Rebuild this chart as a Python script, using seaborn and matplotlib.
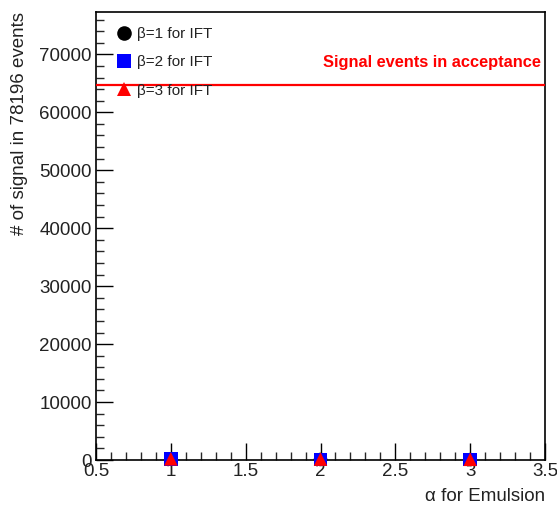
import numpy as np
import pandas as pd
import matplotlib
matplotlib.use("Agg")
import matplotlib.pyplot as plt
from matplotlib.ticker import MultipleLocator, FormatStrFormatter
import seaborn as sns

# Emulsion alpha parameter values
alpha = [1, 2, 3]
# signal counts for each IFT beta setting
signal_beta1 = [120, 90, 70]
signal_beta2 = [160, 120, 95]
signal_beta3 = [200, 150, 120]
beta_labels = ["β=1 for IFT", "β=2 for IFT", "β=3 for IFT"]
acceptance_events = 64700
total_events = 78196

df = pd.DataFrame({
    "alpha": alpha * 3,
    "signal": signal_beta1 + signal_beta2 + signal_beta3,
    "beta": [beta_labels[0]] * 3 + [beta_labels[1]] * 3 + [beta_labels[2]] * 3,
})

sns.set_style("ticks")
plt.rcParams["font.family"] = ["Liberation Sans", "DejaVu Sans"]

fig = plt.figure(figsize=(5.57, 5.07), dpi=100)
ax = fig.add_axes([0.1724, 0.0927, 0.9785 - 0.1724, 0.9763 - 0.0927])

sns.scatterplot(
    data=df, x="alpha", y="signal", hue="beta", style="beta",
    hue_order=beta_labels, style_order=beta_labels,
    palette=["black", "blue", "red"],
    markers={beta_labels[0]: "o", beta_labels[1]: "s", beta_labels[2]: "^"},
    s=95, linewidth=0, ax=ax, zorder=5, clip_on=False,
)

ax.axhline(acceptance_events, color="red", lw=1.6, zorder=4)
ax.text(0.99, 0.888, "Signal events in acceptance", color="red",
        fontsize=11.8, fontweight="bold", ha="right", va="center",
        transform=ax.transAxes)

ax.set_xlim(0.5, 3.5)
ax.set_ylim(0, 77300)
ax.xaxis.set_major_locator(MultipleLocator(0.5))
ax.xaxis.set_minor_locator(MultipleLocator(0.1))
ax.xaxis.set_major_formatter(FormatStrFormatter("%g"))
ax.yaxis.set_major_locator(MultipleLocator(10000))
ax.yaxis.set_minor_locator(MultipleLocator(2000))

ax.tick_params(axis="both", which="major", direction="in", length=12, width=1,
               labelsize=13.5, colors="black", labelcolor="#222222", pad=3)
ax.tick_params(axis="both", which="minor", direction="in", length=6, width=1)
ax.tick_params(axis="x", which="major", pad=2)
for sp in ax.spines.values():
    sp.set_visible(True)
    sp.set_linewidth(1.2)
    sp.set_color("black")

ax.set_xlabel("α for Emulsion", fontsize=13.5, loc="right", labelpad=6, color="#222222")
ax.set_ylabel(f"# of signal in {total_events} events", fontsize=13.5, loc="top",
              labelpad=8, color="#222222")

leg = ax.legend(loc="upper left", bbox_to_anchor=(0.014, 0.98), frameon=False,
                fontsize=11, handletextpad=-0.1, handlelength=2.0, labelspacing=0.93,
                borderaxespad=0, title=None)
for h in leg.legend_handles:
    h.set_markersize(10.5)
for t in leg.get_texts():
    t.set_color("#222222")

fig.savefig("out.png", dpi=100)
